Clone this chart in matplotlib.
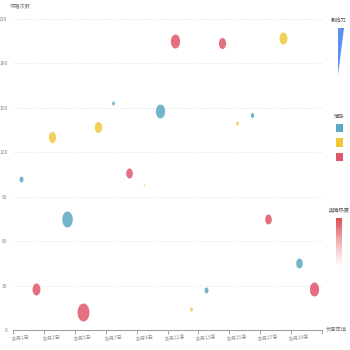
import numpy as np
import matplotlib
matplotlib.use("Agg")
import matplotlib.pyplot as plt
from matplotlib.path import Path
from matplotlib.patches import Polygon, Rectangle

plt.rcParams["font.family"] = ["Noto Sans CJK SC", "DejaVu Sans"]

# ------------------------------------------------------------------
# Data
# ------------------------------------------------------------------
days = [f"10月{d}日" for d in range(1, 21)]
mentions = [102, 28, 130, 75, 12, 137, 153, 106, 98, 148,
            195, 14, 27, 194, 140, 145, 75, 197, 45, 28]
influence = [12, 24, 22, 32, 36, 22, 8, 20, 4, 28,
             28, 8, 12, 22, 8, 10, 20, 24, 20, 28]
sentiment = ["中性", "负面", "正面"] * 7
sentiment = sentiment[:20]
sentiment_names = ["中性", "正面", "负面"]
sentiment_colors = {"中性": "#5aa9c4", "正面": "#f0c738", "负面": "#e0566a"}

y_ticks = [0, 30, 60, 90, 120, 150, 180, 210]

# ------------------------------------------------------------------
# Figure
# ------------------------------------------------------------------
W = H = 350
fig = plt.figure(figsize=(3.5, 3.5), dpi=100)
fig.patch.set_facecolor("white")
ax = fig.add_axes([13 / W, 20 / H, 309 / W, 311 / H])

x = np.arange(len(days))

# vertically stretched bubble marker
t = np.linspace(0, 2 * np.pi, 60)
ellipse = Path(np.column_stack([0.66 * np.cos(t), np.sin(t)]))

for xi, yi, inf, s in zip(x, mentions, influence, sentiment):
    h = inf * 0.5  # marker height in px
    ax.scatter(xi, yi, s=(h * 0.72) ** 2, marker=ellipse,
               color=sentiment_colors[s], alpha=0.85, linewidths=0, zorder=3)

ax.set_xlim(-0.5, len(days) - 0.5)
ax.set_ylim(0, 210)

ax.set_yticks(y_ticks)
ax.set_yticklabels([str(v) for v in y_ticks], fontsize=3.6, color="#888888")
ax.tick_params(axis="y", length=0, pad=4)
ax.grid(axis="y", color="#e6e6e6", linestyle=(0, (2, 2)), linewidth=0.6, zorder=0)

# category axis: ticks on band edges, every other label
ax.set_xticks(x[::2])
ax.set_xticklabels(days[::2], fontsize=3.6, color="#888888", rotation=8)
ax.set_xticks(np.arange(-0.5, len(days), 2), minor=True)
ax.tick_params(axis="x", which="major", length=0, pad=3)
ax.tick_params(axis="x", which="minor", length=3, color="#999999", width=0.6)

for side in ["top", "right", "left"]:
    ax.spines[side].set_visible(False)
ax.spines["bottom"].set_color("#999999")
ax.spines["bottom"].set_linewidth(0.7)

# axis names
fig.text(20 / W, 1 - 7 / H, "传播次数", fontsize=3.8, color="#777777",
         ha="center", va="center")
fig.text(336 / W, 1 - 330 / H, "负面率值", fontsize=3.8, color="#777777",
         ha="center", va="center")

# ------------------------------------------------------------------
# Right-hand legends
# ------------------------------------------------------------------
fig.text(339 / W, 1 - 20 / H, "影响力", fontsize=3.8, color="#555555",
         ha="center", va="center")
wedge = Polygon([(338 / W, 1 - 28 / H), (344 / W, 1 - 28 / H),
                 (338 / W, 1 - 75 / H)], closed=True,
                facecolor="#5b8ff0", edgecolor="none", transform=fig.transFigure)
fig.patches.append(wedge)

fig.text(339 / W, 1 - 117 / H, "情感", fontsize=3.8, color="#555555",
         ha="center", va="center")
for i, name in enumerate(sentiment_names):
    yc = 128 + i * 14.5
    sq = Rectangle(((336) / W, 1 - (yc + 4) / H), 7 / W, 8 / H,
                   facecolor=sentiment_colors[name], edgecolor="none",
                   transform=fig.transFigure)
    fig.patches.append(sq)

fig.text(339 / W, 1 - 210 / H, "舆情热度", fontsize=3.8, color="#555555",
         ha="center", va="center")
grad_ax = fig.add_axes([336 / W, 1 - 266 / H, 6 / W, 48 / H])
grad = np.linspace(1, 0, 100).reshape(-1, 1)
cmap = matplotlib.colors.LinearSegmentedColormap.from_list(
    "heat", ["#ffffff", "#f3b4b8", "#d94c52"])
grad_ax.imshow(grad, aspect="auto", cmap=cmap, vmin=0, vmax=1)
grad_ax.axis("off")

fig.savefig("out.png", dpi=100, facecolor="white")
